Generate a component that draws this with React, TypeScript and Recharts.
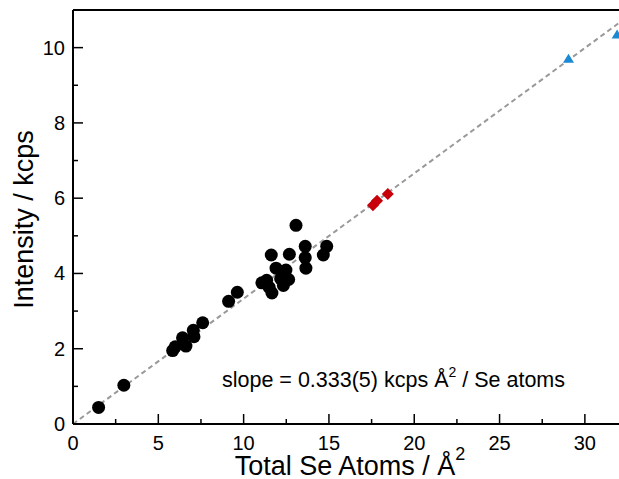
import { ScatterChart, Scatter, XAxis, YAxis, ReferenceLine, Customized } from "recharts";

// black points (film samples)
const blackX = [1.5, 2.98, 5.84, 5.99, 6.42, 6.62, 7.05, 7.09, 7.6, 9.12, 9.63, 11.07, 11.35, 11.5, 11.66, 11.62, 11.9, 12.17, 12.33, 12.48, 12.64, 12.68, 13.07, 13.61, 13.61, 13.65, 14.67, 14.87];
const blackY = [0.44, 1.03, 1.95, 2.05, 2.29, 2.07, 2.49, 2.32, 2.69, 3.26, 3.5, 3.75, 3.82, 3.63, 3.48, 4.49, 4.14, 3.86, 3.68, 4.09, 3.84, 4.51, 5.28, 4.72, 4.42, 4.14, 4.49, 4.72];

// red diamonds
const redX = [17.58, 17.82, 18.45];
const redY = [5.81, 5.93, 6.11];

// blue triangles
const blueX = [29.04, 31.89];
const blueY = [9.72, 10.36];

const slope = 0.333;
const xMax = 32;
const yMax = 11;
const xTicks = [0, 2.5, 5, 7.5, 10, 12.5, 15, 17.5, 20, 22.5, 25, 27.5, 30];
const yTicks = [0, 1, 2, 3, 4, 5, 6, 7, 8, 9, 10];

const FONT = "'Liberation Sans', Arial, sans-serif";

const toPoints = (xs: number[], ys: number[]) => xs.map((x, i) => ({ x, y: ys[i] }));

function XTick(props: any) {
  const { x, y, payload } = props;
  const major = payload.value % 5 === 0;
  return (
    <g>
      <line x1={x} x2={x} y1={y} y2={y - (major ? 10 : 5)} stroke="#000" strokeWidth={1.5} />
      {major && (
        <text x={x} y={y + 25.5} textAnchor="middle" fontSize={20} fontFamily={FONT} fill="#000">
          {payload.value}
        </text>
      )}
    </g>
  );
}

function YTick(props: any) {
  const { x, y, payload } = props;
  const major = payload.value % 2 === 0;
  return (
    <g>
      <line x1={x} x2={x + (major ? 10 : 5)} y1={y} y2={y} stroke="#000" strokeWidth={1.5} />
      {major && (
        <text x={x - 8} y={y + 7} textAnchor="end" fontSize={20} fontFamily={FONT} fill="#000">
          {payload.value}
        </text>
      )}
    </g>
  );
}

const Dot = (p: any) => <circle cx={p.cx} cy={p.cy} r={6.5} fill="#000" />;

const Diamond = (p: any) => {
  const r = 6;
  return (
    <polygon
      points={`${p.cx},${p.cy - r} ${p.cx + r},${p.cy} ${p.cx},${p.cy + r} ${p.cx - r},${p.cy}`}
      fill="#c8000a"
    />
  );
};

const Triangle = (p: any) => (
  <polygon
    points={`${p.cx},${p.cy - 4.5} ${p.cx + 5.5},${p.cy + 4.5} ${p.cx - 5.5},${p.cy + 4.5}`}
    fill="#1b8ad3"
  />
);

const Titles = () => (
  <g fontFamily={FONT} fill="#000">
    <text x={350} y={475} textAnchor="middle" fontSize={27}>
      Total Se Atoms / Å<tspan dy={-15} fontSize={18}>2</tspan>
    </text>
    <text x={33} y={219.5} textAnchor="middle" fontSize={27} transform="rotate(-90 33 219.5)">
      Intensity / kcps
    </text>
    <text x={222} y={387} fontSize={21.5}>
      slope = 0.333(5) kcps Å<tspan dy={-10} fontSize={14}>2</tspan>
      <tspan dy={10}> / Se atoms</tspan>
    </text>
  </g>
);

export default function App() {
  return (
    <div style={{ position: "absolute", left: 0, top: 0, width: 619, height: 479, overflow: "hidden", fontFamily: FONT }}>
      <ScatterChart width={619} height={479} margin={{ top: 10, right: 0, bottom: 0, left: 0 }}>
        <XAxis
          dataKey="x"
          type="number"
          domain={[0, xMax]}
          ticks={xTicks}
          interval={0}
          height={55}
          tickSize={0}
          tickMargin={0}
          tickLine={false}
          tick={<XTick />}
          axisLine={{ stroke: "#000", strokeWidth: 2 }}
        />
        <YAxis
          dataKey="y"
          type="number"
          domain={[0, yMax]}
          ticks={yTicks}
          interval={0}
          width={73}
          tickSize={0}
          tickMargin={0}
          tickLine={false}
          tick={<YTick />}
          axisLine={{ stroke: "#000", strokeWidth: 2 }}
        />
        <ReferenceLine y={yMax} stroke="#000" strokeWidth={2} />
        <ReferenceLine
          segment={[{ x: 0, y: 0 }, { x: xMax, y: xMax * slope }]}
          stroke="#999"
          strokeWidth={2}
          strokeDasharray="5 3.5"
        />
        <Scatter data={toPoints(blackX, blackY)} shape={Dot} isAnimationActive={false} />
        <Scatter data={toPoints(redX, redY)} shape={Diamond} isAnimationActive={false} />
        <Scatter data={toPoints(blueX, blueY)} shape={Triangle} isAnimationActive={false} />
        <Customized component={<Titles />} />
      </ScatterChart>
    </div>
  );
}
